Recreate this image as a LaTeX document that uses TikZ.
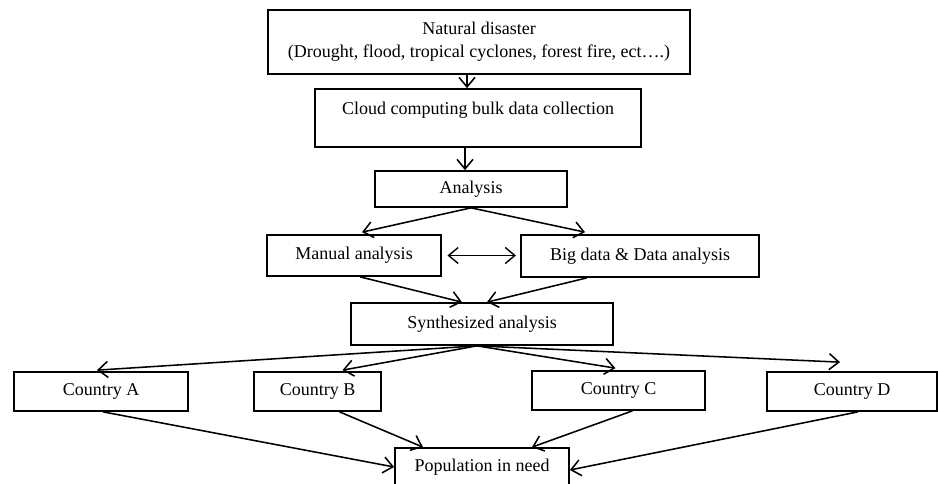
\documentclass[tikz,border=0pt]{standalone}
\usepackage{fontspec}
\setmainfont{Liberation Serif}
\usepackage{tikz}
\usetikzlibrary{arrows.meta, positioning, calc}

\begin{document}
\begin{tikzpicture}[
    x=0.025cm, y=-0.025cm,
    box/.style={rectangle, draw, line width=1.2pt, inner sep=0pt, align=center, font=\fontsize{12.8}{16.4}\selectfont},
    arrow/.style={-{Straight Barb[length=2.4mm, width=4mm]}, line width=1.1pt},
    both/.style={{Straight Barb[length=2.4mm, width=4mm]}-{Straight Barb[length=2.4mm, width=4mm]}, line width=1pt}
]
    \useasboundingbox (0,0) rectangle (938,484);

    % Boxes
    \node[box, minimum width=10.55cm, minimum height=1.6cm] (nat) at (479,42) {Natural disaster\\(Drought, flood, tropical cyclones, forest fire, ect….)};
    \node[box, minimum width=8.15cm, minimum height=1.45cm, text depth=0.5cm] (cloud) at (478,118) {Cloud computing bulk data collection};
    \node[box, minimum width=4.8cm, minimum height=0.9cm] (ana) at (471,189) {Analysis};
    \node[box, minimum width=4.35cm, minimum height=1.025cm] (man) at (354,255.5) {Manual analysis};
    \node[box, minimum width=5.95cm, minimum height=1.05cm] (big) at (640,256) {Big data \& Data analysis};
    \node[box, minimum width=6.55cm, minimum height=1.05cm] (syn) at (482,324) {Synthesized analysis};
    \node[box, minimum width=4.35cm, minimum height=0.975cm] (ca) at (101,391.5) {Country A};
    \node[box, minimum width=3.175cm, minimum height=0.975cm] (cb) at (317.5,391.5) {Country B};
    \node[box, minimum width=4.325cm, minimum height=0.975cm] (cc) at (618.5,390.5) {Country C};
    \node[box, minimum width=4.25cm, minimum height=0.975cm] (cd) at (852,391.5) {Country D};
    \node[box, minimum width=4.35cm, minimum height=0.95cm] (pop) at (482,467) {Population in need};

    % Arrows
    \draw[arrow] ($(nat.south)+(-12,0)$) -- ($(cloud.north)+(-11,0)$);
    \draw[arrow] ($(cloud.south)+(-13,0)$) -- ($(ana.north)+(-6,0)$);
    \draw[arrow] (ana.south) -- ($(man.north)+(8,-2)$);
    \draw[arrow] (ana.south) -- ($(big.north)+(-55,-2)$);
    \draw[both, shorten <=4pt, shorten >=3pt] (man.east) -- (man.east -| big.west);
    \draw[arrow] ($(man.south)+(6,0)$) -- ($(syn.north)+(-20,0)$);
    \draw[arrow] ($(big.south)+(-53,0)$) -- ($(syn.north)+(5,0)$);
    \draw[arrow] ($(syn.south)+(-5,0)$) -- ($(ca.north)+(-4,-1)$);
    \draw[arrow] ($(syn.south)+(-5,0)$) -- ($(cb.north)+(25,-1)$);
    \draw[arrow] ($(syn.south)+(-5,0)$) -- ($(cc.north)+(-3,-2)$);
    \draw[arrow] ($(syn.south)+(-5,0)$) -- ($(cd.north)+(-12,-9)$);
    \draw[arrow] ($(ca.south)+(2,0)$) -- (pop.west);
    \draw[arrow] ($(cb.south)+(22,0)$) -- ($(pop.north)+(-59,0)$);
    \draw[arrow] ($(cc.south)+(14,0)$) -- ($(pop.north)+(50,0)$);
    \draw[arrow] ($(cd.south)+(6,0)$) -- ($(pop.east)+(0,3)$);

\end{tikzpicture}
\end{document}
